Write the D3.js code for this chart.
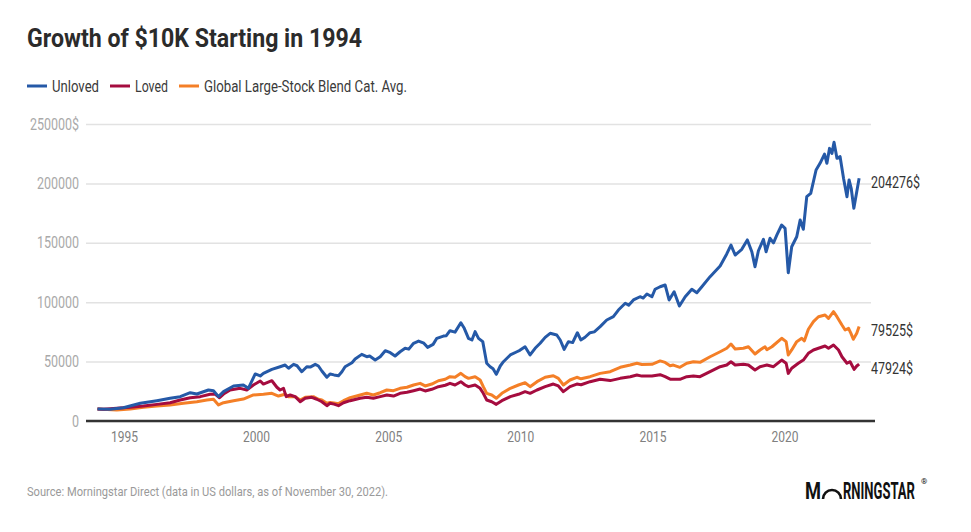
<!DOCTYPE html>
<html>
<head>
<meta charset="utf-8">
<script src="https://cdn.jsdelivr.net/npm/d3@7"></script>
<style>
  body { margin: 0; background: #fff; }
  svg { display: block; font-family: Roboto, "Noto Sans", sans-serif; }
</style>
</head>
<body>
<svg id="chart" width="971" height="532"></svg>
<script>
// values, [decimal year, value in $]
const unloved = [[1994.0,10000],[1994.48,9800],[1994.98,11200],[1995.62,14900],[1996.25,17100],[1996.75,19100],[1997.13,20500],[1997.51,23800],[1997.76,22700],[1998.2,26100],[1998.39,25500],[1998.58,20500],[1998.77,24700],[1999.15,29500],[1999.52,30300],[1999.71,27500],[1999.97,39600],[2000.16,37900],[2000.28,40100],[2000.6,43500],[2000.91,45700],[2001.1,47100],[2001.23,44400],[2001.42,47700],[2001.55,46500],[2001.73,41500],[2001.92,45700],[2002.05,45400],[2002.24,47700],[2002.36,46300],[2002.49,42100],[2002.68,36800],[2002.8,39600],[2002.95,38800],[2003.12,38100],[2003.25,41500],[2003.37,45700],[2003.63,49100],[2003.75,52200],[2004.0,56100],[2004.19,54100],[2004.3,54700],[2004.51,51300],[2004.7,54100],[2004.89,59200],[2005.08,57500],[2005.26,54700],[2005.45,58300],[2005.64,61200],[2005.78,60500],[2005.96,65400],[2006.15,67300],[2006.35,65500],[2006.49,62000],[2006.7,64500],[2006.84,69600],[2007.09,71500],[2007.2,71800],[2007.34,76000],[2007.53,74800],[2007.75,82700],[2007.88,78000],[2008.04,69600],[2008.17,68200],[2008.29,75200],[2008.42,69600],[2008.58,66800],[2008.73,48600],[2008.86,45700],[2008.97,44000],[2009.09,39300],[2009.24,46300],[2009.36,49900],[2009.62,55600],[2009.87,58300],[2009.98,59500],[2010.18,62500],[2010.37,55600],[2010.56,61200],[2010.75,65400],[2010.94,70400],[2011.13,73800],[2011.38,72400],[2011.51,68200],[2011.66,60300],[2011.82,66800],[2011.98,66000],[2012.16,74300],[2012.29,68200],[2012.45,70500],[2012.64,74300],[2012.8,75000],[2013.02,79400],[2013.27,85000],[2013.52,87800],[2013.71,93400],[2013.97,99100],[2014.1,97500],[2014.28,101900],[2014.53,104600],[2014.65,103500],[2014.79,106900],[2014.98,104600],[2015.1,110900],[2015.29,113000],[2015.48,114500],[2015.63,101900],[2015.82,108800],[2016.02,96800],[2016.24,104600],[2016.49,110900],[2016.68,108000],[2016.87,113000],[2017.18,121500],[2017.56,130500],[2017.81,140600],[2017.97,148100],[2018.13,139700],[2018.38,144500],[2018.59,152400],[2018.76,142500],[2018.88,129900],[2019.01,143300],[2019.2,152900],[2019.3,142500],[2019.45,153800],[2019.58,150000],[2019.71,156600],[2019.89,165000],[2020.02,162200],[2020.14,124800],[2020.27,146700],[2020.46,155100],[2020.59,169200],[2020.71,161400],[2020.84,188800],[2020.99,191600],[2021.19,211300],[2021.34,216900],[2021.51,224700],[2021.6,216900],[2021.7,229500],[2021.79,225300],[2021.87,234600],[2021.98,221100],[2022.1,222500],[2022.23,204300],[2022.36,188800],[2022.44,202900],[2022.52,195900],[2022.62,179000],[2022.73,193000],[2022.82,204276]];

const loved = [[1994.0,10000],[1994.23,9800],[1994.73,10700],[1995.24,11500],[1995.74,12600],[1996.25,14000],[1996.75,15400],[1997.13,17700],[1997.51,19600],[1997.89,20500],[1998.26,22500],[1998.45,22700],[1998.62,19600],[1998.77,22700],[1999.02,26100],[1999.4,27500],[1999.65,26100],[1999.9,30300],[2000.16,33700],[2000.28,31100],[2000.6,33900],[2000.79,28400],[2000.91,26100],[2001.04,27500],[2001.14,20500],[2001.29,21900],[2001.48,20500],[2001.67,16200],[2001.86,19100],[2002.11,19900],[2002.3,18300],[2002.49,16200],[2002.68,12900],[2002.8,14900],[2002.95,14200],[2003.12,12900],[2003.31,15400],[2003.56,17100],[2003.94,19100],[2004.19,19900],[2004.44,19100],[2004.7,20500],[2004.95,21900],[2005.2,21000],[2005.45,23300],[2005.71,24200],[2005.96,25500],[2006.21,26900],[2006.4,25300],[2006.65,26700],[2006.9,28900],[2007.16,30100],[2007.34,31700],[2007.53,30300],[2007.75,33100],[2007.91,30300],[2008.04,28900],[2008.29,30300],[2008.48,27500],[2008.6,23300],[2008.73,17700],[2008.92,16200],[2009.09,14000],[2009.3,17100],[2009.62,20500],[2009.93,22500],[2010.18,24700],[2010.37,23300],[2010.63,26100],[2010.94,28900],[2011.25,31100],[2011.44,29500],[2011.63,24700],[2011.88,28900],[2012.14,31100],[2012.3,30500],[2012.64,33100],[2013.02,35100],[2013.4,34000],[2013.78,35900],[2014.16,37300],[2014.41,38700],[2014.6,37800],[2014.98,37900],[2015.29,39000],[2015.48,37300],[2015.67,35200],[2016.04,35100],[2016.3,37300],[2016.55,37900],[2016.8,37300],[2017.18,41500],[2017.56,45700],[2017.81,47100],[2017.97,49900],[2018.13,47100],[2018.44,47700],[2018.63,47100],[2018.88,42900],[2019.07,45700],[2019.33,47100],[2019.58,45700],[2019.89,51300],[2020.06,48600],[2020.14,40100],[2020.27,44400],[2020.52,48600],[2020.71,51300],[2020.9,57000],[2021.09,59800],[2021.28,61200],[2021.53,63100],[2021.66,61200],[2021.85,64000],[2022.04,59800],[2022.17,54100],[2022.36,48600],[2022.48,49900],[2022.63,43500],[2022.73,46300],[2022.82,47924]];

const catAvg = [[1994.0,10000],[1994.73,9300],[1995.24,10100],[1995.74,11500],[1996.25,12600],[1996.75,13500],[1997.25,14900],[1997.76,16200],[1998.14,17700],[1998.39,18300],[1998.58,13500],[1998.77,15400],[1999.15,17100],[1999.52,18500],[1999.9,21900],[2000.28,22500],[2000.6,23300],[2000.85,21000],[2001.1,22500],[2001.23,20500],[2001.48,20500],[2001.67,17700],[2001.86,19900],[2002.17,20500],[2002.36,18300],[2002.49,17700],[2002.68,14900],[2002.8,15600],[2002.95,15200],[2003.12,14600],[2003.31,17100],[2003.56,19600],[2003.94,21900],[2004.19,23300],[2004.44,21900],[2004.7,23800],[2004.95,26100],[2005.2,25500],[2005.45,27500],[2005.71,28400],[2005.96,30300],[2006.21,31700],[2006.4,29500],[2006.65,31100],[2006.9,33900],[2007.16,35100],[2007.34,37300],[2007.53,36800],[2007.75,40100],[2007.91,37300],[2008.04,35900],[2008.29,37300],[2008.48,34500],[2008.6,28900],[2008.73,23300],[2008.92,21900],[2009.09,19100],[2009.3,23300],[2009.62,27500],[2009.93,30300],[2010.18,32200],[2010.37,28900],[2010.63,33100],[2010.94,36800],[2011.25,38100],[2011.44,35900],[2011.63,30300],[2011.88,34500],[2012.14,36800],[2012.3,35500],[2012.64,37300],[2013.02,40100],[2013.4,41500],[2013.78,45200],[2014.16,47100],[2014.41,48600],[2014.6,47500],[2014.98,47700],[2015.29,50600],[2015.48,49300],[2015.67,46500],[2015.79,47100],[2016.04,45200],[2016.3,48600],[2016.55,49900],[2016.8,49400],[2017.18,54100],[2017.56,58300],[2017.81,61200],[2017.97,64800],[2018.13,60600],[2018.44,61200],[2018.63,62500],[2018.88,56400],[2019.07,59800],[2019.26,62500],[2019.33,60000],[2019.52,62500],[2019.89,69600],[2020.06,66800],[2020.14,55600],[2020.27,59800],[2020.46,66800],[2020.65,69600],[2020.75,67500],[2020.9,77200],[2021.09,83600],[2021.28,87800],[2021.53,89200],[2021.66,86400],[2021.85,92000],[2021.98,87800],[2022.17,80800],[2022.29,76600],[2022.42,78000],[2022.51,73800],[2022.6,68800],[2022.73,73800],[2022.82,79525]];

const seriesNames = ["Unloved", "Loved", "Global Large-Stock Blend Cat. Avg."];
const seriesColors = ["#2559a7", "#a50c3f", "#f47f27"];
const yTicks = [0, 50000, 100000, 150000, 200000, 250000];
const xTickYears = [1995, 2000, 2005, 2010, 2015, 2020];

const svg = d3.select("#chart");

function toDate(v) {
    const y = Math.floor(v);
    return new Date(new Date(y, 0, 1).getTime() + (v - y) * 365.25 * 864e5);
}

// squeeze Roboto into a condensed look
function condense(sel, k) {
    sel.each(function() {
        const w = this.getComputedTextLength();
        d3.select(this).attr("textLength", w * k).attr("lengthAdjust", "spacingAndGlyphs");
    });
}

// horizontally scale a text placed at (x0, y0) so it is w wide
function squeeze(g, x0, y0, w) {
    const t = g.select("text");
    const k = w / t.node().getComputedTextLength();
    g.attr("transform", `translate(${x0},${y0}) scale(${k},1)`);
}

const x = d3.scaleTime().domain([toDate(1993.565), toDate(2023.27)]).range([86, 871]);
const y = d3.scaleLinear().domain([0, 250000]).range([421, 124]);

// title
svg.append("text")
    .attr("x", 27).attr("y", 47)
    .attr("font-size", 26).attr("font-weight", 700).attr("fill", "#2b2b2b")
    .attr("textLength", 335).attr("lengthAdjust", "spacingAndGlyphs")
    .text("Growth of $10K Starting in 1994");

// legend
const legendX = [27, 110, 179];
const legendW = [47, 33, 203];
seriesNames.forEach((name, i) => {
    svg.append("line")
        .attr("x1", legendX[i]).attr("x2", legendX[i] + 20)
        .attr("y1", 86).attr("y2", 86)
        .attr("stroke", seriesColors[i]).attr("stroke-width", 3);
    svg.append("text")
        .attr("x", legendX[i] + 25).attr("y", 92)
        .attr("font-size", 16).attr("fill", "#3a3a3a")
        .attr("textLength", legendW[i]).attr("lengthAdjust", "spacingAndGlyphs")
        .text(name);
});

// y axis + gridlines
const yAxis = svg.append("g")
    .attr("transform", "translate(86,0)")
    .call(d3.axisLeft(y).tickValues(yTicks).tickSize(-785).tickPadding(7)
        .tickFormat(d => d === 250000 ? d + "$" : d));
yAxis.select(".domain").remove();
yAxis.selectAll("line").attr("stroke", "#e2e2e2").attr("stroke-width", 1.5);
yAxis.selectAll("text")
    .attr("font-size", 16).attr("fill", "#a9a9a9").attr("font-family", "Roboto")
    .call(condense, 0.78);

// x axis labels
const xAxis = svg.append("g")
    .attr("transform", "translate(0,421)")
    .call(d3.axisBottom(x).tickValues(xTickYears.map(v => new Date(v, 0, 1)))
        .tickSize(0).tickPadding(10).tickFormat(d3.timeFormat("%Y")));
xAxis.select(".domain").remove();
xAxis.selectAll("text")
    .attr("font-size", 15).attr("fill", "#808080").attr("font-family", "Roboto")
    .call(condense, 0.8);

// baseline
svg.append("line")
    .attr("x1", 86).attr("x2", 875)
    .attr("y1", y(0)).attr("y2", y(0))
    .attr("stroke", "#333").attr("stroke-width", 2.5);

const line = d3.line()
    .x(d => x(toDate(d[0])))
    .y(d => y(d[1]));

const allSeries = [unloved, loved, catAvg];
// draw order: orange below, red, blue on top at crossings
[2, 1, 0].forEach(i => {
    svg.append("path")
        .datum(allSeries[i])
        .attr("d", line)
        .attr("fill", "none")
        .attr("stroke", seriesColors[i])
        .attr("stroke-width", 3)
        .attr("stroke-linejoin", "round");
});

// end labels
allSeries.forEach(s => {
    const last = s[s.length - 1];
    svg.append("text")
        .attr("x", 871).attr("y", y(last[1]) + 4).attr("dy", "0.35em")
        .attr("font-size", 16).attr("fill", "#333")
        .text(last[1] + "$")
        .call(condense, 0.78);
});

// footer
svg.append("text")
    .attr("x", 27).attr("y", 496)
    .attr("font-size", 13).attr("fill", "#9a9a9a")
    .attr("textLength", 361).attr("lengthAdjust", "spacingAndGlyphs")
    .text("Source: Morningstar Direct (data in US dollars, as of November 30, 2022).");

// logo
const logoM = svg.append("g").attr("fill", "#111");
logoM.append("text").attr("font-size", 24).attr("font-weight", 700).text("M");
squeeze(logoM, 805, 499, 16);

svg.append("path")
    .attr("d", "M823,499 A9,9 0 0 1 841,499")
    .attr("fill", "none").attr("stroke", "#111").attr("stroke-width", 2.6);

const logoRest = svg.append("g").attr("fill", "#111");
logoRest.append("text").attr("font-size", 24).attr("font-weight", 700).text("RNINGSTAR");
squeeze(logoRest, 843, 499, 72);

svg.append("text")
    .attr("x", 921).attr("y", 484)
    .attr("font-size", 8).attr("fill", "#111")
    .text("®");
</script>
</body>
</html>
